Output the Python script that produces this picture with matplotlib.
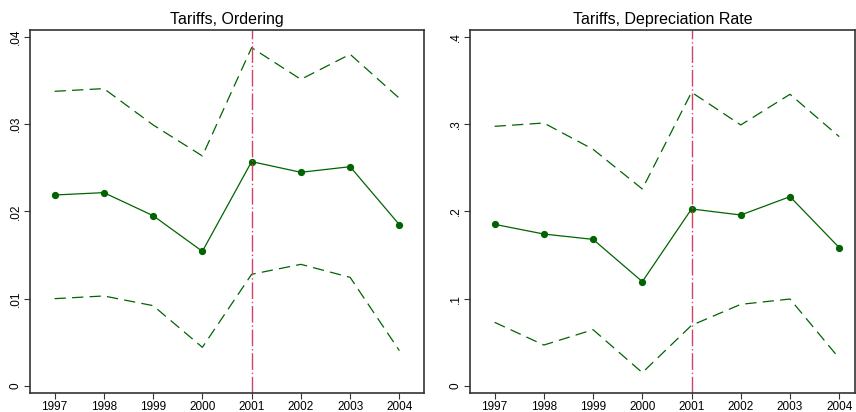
import numpy as np
import matplotlib.pyplot as plt

plt.rcParams['font.family'] = ['Liberation Sans', 'DejaVu Sans']

years = [1997, 1998, 1999, 2000, 2001, 2002, 2003, 2004]

ord_est = [0.02187, 0.02214, 0.0195, 0.01542, 0.02569, 0.02447, 0.02511, 0.01847]
ord_hi = [0.03374, 0.03405, 0.02989, 0.02634, 0.03874, 0.03511, 0.03798, 0.03294]
ord_lo = [0.0100, 0.01031, 0.0092, 0.00443, 0.01279, 0.01393, 0.01244, 0.00405]

dep_est = [0.1851, 0.1740, 0.1679, 0.1195, 0.2027, 0.1958, 0.2168, 0.1584]
dep_hi = [0.2973, 0.3011, 0.2710, 0.2256, 0.3363, 0.2989, 0.3340, 0.2855]
dep_lo = [0.0729, 0.0469, 0.0645, 0.0153, 0.0695, 0.0935, 0.0996, 0.0317]

ord_ticks = [0, 0.01, 0.02, 0.03, 0.04]
ord_labels = ['0', '.01', '.02', '.03', '.04']
dep_ticks = [0, 0.1, 0.2, 0.3, 0.4]
dep_labels = ['0', '.1', '.2', '.3', '.4']

green = '#006400'
red = '#cc4466'


def panel(ax, est, hi, lo, ticks, labels, title, xmax):
    ax.plot(years, hi, color=green, lw=0.9, ls=(0, (9, 5)))
    ax.plot(years, lo, color=green, lw=0.9, ls=(0, (9, 5)))
    ax.plot(years, est, color=green, lw=0.9, marker='o', ms=4.2)
    ax.axvline(2001, color=red, lw=1.0, ls=(0, (12, 2, 1, 2)))
    ax.set_xlim(1996.5, xmax)
    top = ticks[-1]
    ax.set_ylim(-0.02 * top, 1.019 * top)
    ax.set_xticks(years)
    ax.set_yticks(ticks)
    ax.set_yticklabels(labels, rotation=90, va='center')
    ax.tick_params(labelsize=8.5, length=4, width=0.8, color='#333333', pad=2)
    for s in ax.spines.values():
        s.set_color('#333333')
        s.set_linewidth(1.2)
    ax.set_title(title, fontsize=11.5, pad=4)


fig = plt.figure(figsize=(8.56, 4.12), dpi=100)
ax1 = fig.add_axes([30 / 856, 19 / 412, 394 / 856, 363 / 412])
ax2 = fig.add_axes([470 / 856, 19 / 412, 385 / 856, 363 / 412])

panel(ax1, ord_est, ord_hi, ord_lo, ord_ticks, ord_labels, 'Tariffs, Ordering', 2004.5)
panel(ax2, dep_est, dep_hi, dep_lo, dep_ticks, dep_labels, 'Tariffs, Depreciation Rate', 2004.32)

fig.savefig('out.png', dpi=100)
